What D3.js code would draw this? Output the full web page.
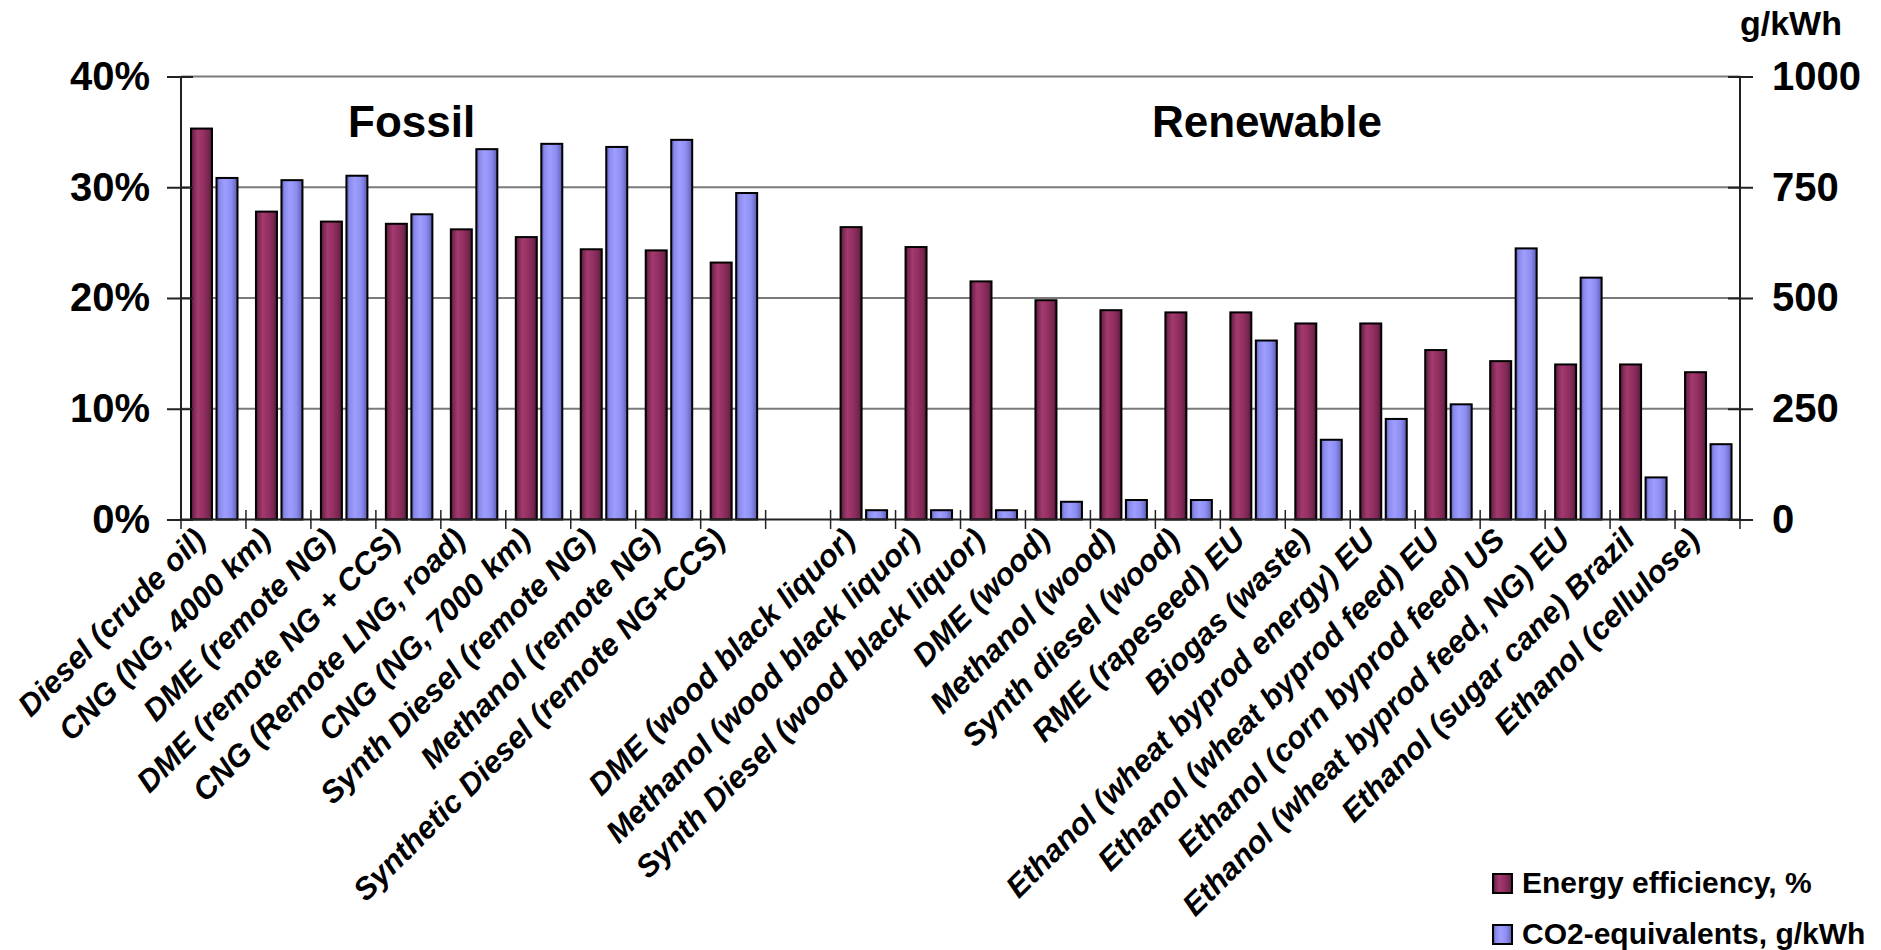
<!DOCTYPE html>
<html>
<head>
<meta charset="utf-8">
<script src="https://cdn.jsdelivr.net/npm/d3@7"></script>
<style>
  body { margin: 0; background: #fff; }
  svg { display: block; font-family: "Liberation Sans", Arial, sans-serif; font-weight: bold; }
</style>
</head>
<body>
<svg id="chart" width="1881" height="950"></svg>
<script>
// categories, "" is the empty gap between fossil and renewable
var categories = [
  'Diesel (crude oil)', 'CNG (NG, 4000 km)', 'DME (remote NG)', 'DME (remote NG + CCS)',
  'CNG (Remote LNG, road)', 'CNG (NG, 7000 km)', 'Synth Diesel (remote NG)', 'Methanol (remote NG)',
  'Synthetic Diesel (remote NG+CCS)', '',
  'DME (wood black liquor)', 'Methanol (wood black liquor)', 'Synth Diesel (wood black liquor)',
  'DME (wood)', 'Methanol (wood)', 'Synth diesel (wood)', 'RME (rapeseed) EU', 'Biogas (waste)',
  'Ethanol (wheat byprod energy) EU', 'Ethanol (wheat byprod feed) EU', 'Ethanol (corn byprod feed) US',
  'Ethanol (wheat byprod feed, NG) EU', 'Ethanol (sugar cane) Brazil', 'Ethanol (cellulose)'
];
// energy efficiency, %
var efficiency = [35.3, 27.8, 26.9, 26.7, 26.2, 25.5, 24.4, 24.3, 23.2, null,
  26.4, 24.6, 21.5, 19.8, 18.9, 18.7, 18.7, 17.7, 17.7, 15.3, 14.3, 14.0, 14.0, 13.3];
// CO2-equivalents, g/kWh
var co2 = [771, 766, 776, 689, 836, 848, 841, 857, 737, null,
  21, 21, 21, 40, 44, 44, 404, 180, 227, 260, 612, 546, 95, 170];

var leftTicks = [0, 10, 20, 30, 40];
var rightTicks = [0, 250, 500, 750, 1000];
var groups = [{name: 'Fossil', x: 348}, {name: 'Renewable', x: 1152}];
var series = ['Energy efficiency, %', 'CO2-equivalents, g/kWh'];

var plotL = 181, plotR = 1740, plotT = 76.5, plotB = 519.5;

var svg = d3.select('#chart');

var defs = svg.append('defs');
var gm = defs.append('linearGradient').attr('id', 'gMaroon');
[[0, '#4a1430'], [0.12, '#7a2752'], [0.32, '#a33a6e'], [0.6, '#932f62'], [0.85, '#76264e'], [1, '#4a1430']]
  .forEach(s => gm.append('stop').attr('offset', s[0]).attr('stop-color', s[1]));
var gb = defs.append('linearGradient').attr('id', 'gBlue');
[[0, '#5656a8'], [0.15, '#8a8aea'], [0.4, '#9e9eff'], [0.7, '#8e8ef2'], [0.9, '#6e6ec8'], [1, '#50509c']]
  .forEach(s => gb.append('stop').attr('offset', s[0]).attr('stop-color', s[1]));

var x = d3.scaleBand().domain(d3.range(categories.length)).range([plotL, plotR]).padding(0);
var yL = d3.scaleLinear().domain([0, 40]).range([plotB, plotT]);
var yR = d3.scaleLinear().domain([0, 1000]).range([plotB, plotT]);

// gridlines
svg.append('g')
  .selectAll('line')
  .data(leftTicks.slice(1))
  .join('line')
  .attr('x1', plotL).attr('x2', plotR)
  .attr('y1', d => yL(d)).attr('y2', d => yL(d))
  .attr('stroke', '#7a7a7a')
  .attr('stroke-width', 2);

// bars
var bw = 21;
svg.append('g')
  .selectAll('rect')
  .data(efficiency.map((v, i) => [i, v]).filter(d => d[1] != null))
  .join('rect')
  .attr('x', d => x(d[0]) + 10)
  .attr('y', d => yL(d[1]))
  .attr('width', bw)
  .attr('height', d => plotB - yL(d[1]))
  .attr('fill', 'url(#gMaroon)')
  .attr('stroke', '#000')
  .attr('stroke-width', 2);

svg.append('g')
  .selectAll('rect')
  .data(co2.map((v, i) => [i, v]).filter(d => d[1] != null))
  .join('rect')
  .attr('x', d => x(d[0]) + 35.5)
  .attr('y', d => yR(d[1]))
  .attr('width', bw)
  .attr('height', d => plotB - yR(d[1]))
  .attr('fill', 'url(#gBlue)')
  .attr('stroke', '#000')
  .attr('stroke-width', 2);

// left axis
var axL = svg.append('g')
  .attr('transform', `translate(${plotL},0)`)
  .call(d3.axisLeft(yL).tickValues(leftTicks).tickSize(14).tickPadding(17).tickFormat(d => d + '%'));
axL.select('.domain').attr('stroke', '#222').attr('stroke-width', 2).attr('d', `M0,${plotT}V${plotB}`);
axL.selectAll('.tick line').attr('x1', 12).attr('stroke', '#222').attr('stroke-width', 2);
axL.selectAll('.tick text').attr('font-size', 40).attr('font-weight', 'bold').attr('fill', '#000')
  .attr('font-family', '"Liberation Sans", Arial, sans-serif');

// right axis
var axR = svg.append('g')
  .attr('transform', `translate(${plotR},0)`)
  .call(d3.axisRight(yR).tickValues(rightTicks).tickSize(13).tickPadding(19).tickFormat(d3.format('d')));
axR.select('.domain').attr('stroke', '#222').attr('stroke-width', 2).attr('d', `M0,${plotT}V${plotB}`);
axR.selectAll('.tick line').attr('x1', -12).attr('stroke', '#222').attr('stroke-width', 2);
axR.selectAll('.tick text').attr('font-size', 40).attr('font-weight', 'bold').attr('fill', '#000')
  .attr('font-family', '"Liberation Sans", Arial, sans-serif');

svg.append('text')
  .attr('x', 1740).attr('y', 35)
  .attr('font-size', 34)
  .text('g/kWh');

// x axis line + boundary ticks
svg.append('line')
  .attr('x1', plotL).attr('x2', plotR)
  .attr('y1', plotB).attr('y2', plotB)
  .attr('stroke', '#222').attr('stroke-width', 2);
svg.append('g')
  .selectAll('line')
  .data(d3.range(categories.length + 1))
  .join('line')
  .attr('x1', d => plotL + d * x.bandwidth()).attr('x2', d => plotL + d * x.bandwidth())
  .attr('y1', plotB - 9.5).attr('y2', plotB + 9.5)
  .attr('stroke', '#222').attr('stroke-width', 1.5);

// category labels
svg.append('g')
  .selectAll('text')
  .data(categories.map((c, i) => [i, c]))
  .join('text')
  .attr('transform', d => `translate(${x(d[0]) + x.bandwidth() / 2 - 6},${plotB + 22}) rotate(-45)`)
  .attr('text-anchor', 'end')
  .attr('font-size', 31)
  .attr('font-style', 'italic')
  .text(d => d[1]);

// group titles
svg.append('g')
  .selectAll('text')
  .data(groups)
  .join('text')
  .attr('x', d => d.x).attr('y', 137)
  .attr('font-size', 44)
  .text(d => d.name);

// legend
var legend = svg.append('g')
  .selectAll('g')
  .data(series)
  .join('g')
  .attr('transform', (d, i) => `translate(1493,${874 + i * 51})`);
legend.append('rect')
  .attr('width', 19).attr('height', 19)
  .attr('fill', (d, i) => i ? 'url(#gBlue)' : 'url(#gMaroon)')
  .attr('stroke', '#000').attr('stroke-width', 2);
legend.append('text')
  .attr('x', 29).attr('y', 19)
  .attr('font-size', 30)
  .text(d => d);
</script>
</body>
</html>
